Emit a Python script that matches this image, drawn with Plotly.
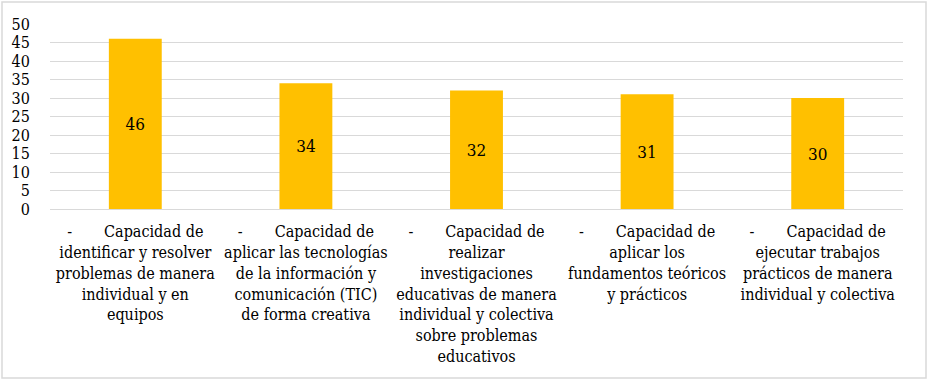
import plotly.graph_objects as go

NB = "\u00a0"
categories = [
    "-" + NB * 7 + "Capacidad de<br>identificar y resolver<br>problemas de manera<br>individual y en<br>equipos",
    "-" + NB * 7 + "Capacidad de<br>aplicar las tecnologías<br>de la información y<br>comunicación (TIC)<br>de forma creativa",
    "-" + NB * 7 + "Capacidad de<br>realizar<br>investigaciones<br>educativas de manera<br>individual y colectiva<br>sobre problemas<br>educativos",
    "-" + NB * 7 + "Capacidad de<br>aplicar los<br>fundamentos teóricos<br>y prácticos",
    "-" + NB * 7 + "Capacidad de<br>ejecutar trabajos<br>prácticos de manera<br>individual y colectiva",
]
values = [46, 34, 32, 31, 30]
y_ticks = [0, 5, 10, 15, 20, 25, 30, 35, 40, 45, 50]

FONT = "DejaVu Serif Condensed, DejaVu Serif"
W, H = 929, 381
ML, MR, MT, MB = 50, 26, 24, 172

fig = go.Figure(
    go.Bar(
        x=list(range(len(values))),
        y=values,
        marker=dict(color="#FFC000", line=dict(width=0)),
        text=[str(v) for v in values],
        textposition="inside",
        insidetextanchor="middle",
        textfont=dict(family=FONT, size=17, color="#000000"),
        textangle=0,
        width=0.31,
    )
)

pw = W - ML - MR
ph = H - MT - MB
fig.add_shape(
    type="rect", xref="paper", yref="paper",
    x0=(2 - ML) / pw, x1=(W - 3 - ML) / pw,
    y0=-(H - 3 - MT - ph) / ph, y1=1 + (MT - 2) / ph,
    line=dict(color="#d9d9d9", width=1.5), layer="below",
)

fig.update_layout(
    width=W, height=H,
    margin=dict(l=ML, r=MR, t=MT, b=MB, pad=0),
    paper_bgcolor="white", plot_bgcolor="white",
    showlegend=False,
    font=dict(family=FONT, size=16, color="#000000"),
    xaxis=dict(
        tickmode="array",
        tickvals=list(range(len(categories))),
        ticktext=categories,
        range=[-0.5, len(values) - 0.5],
        showgrid=False, zeroline=False, showline=False,
        tickangle=0,
        ticks="outside", ticklen=8, tickcolor="rgba(0,0,0,0)",
        tickfont=dict(family=FONT, size=16, color="#000000"),
    ),
    yaxis=dict(
        tickmode="array",
        tickvals=y_ticks,
        range=[0, 50],
        showgrid=True, gridcolor="#d9d9d9", gridwidth=1.3,
        zeroline=True, zerolinecolor="#d9d9d9", zerolinewidth=1.3,
        showline=False,
        ticks="outside", ticklen=16, tickcolor="rgba(0,0,0,0)",
        tickfont=dict(family=FONT, size=16, color="#000000"),
    ),
)

fig.write_html(
    "out.html",
    config={"displayModeBar": False},
    post_script="document.body.style.margin='0';document.body.style.padding='0';",
)
